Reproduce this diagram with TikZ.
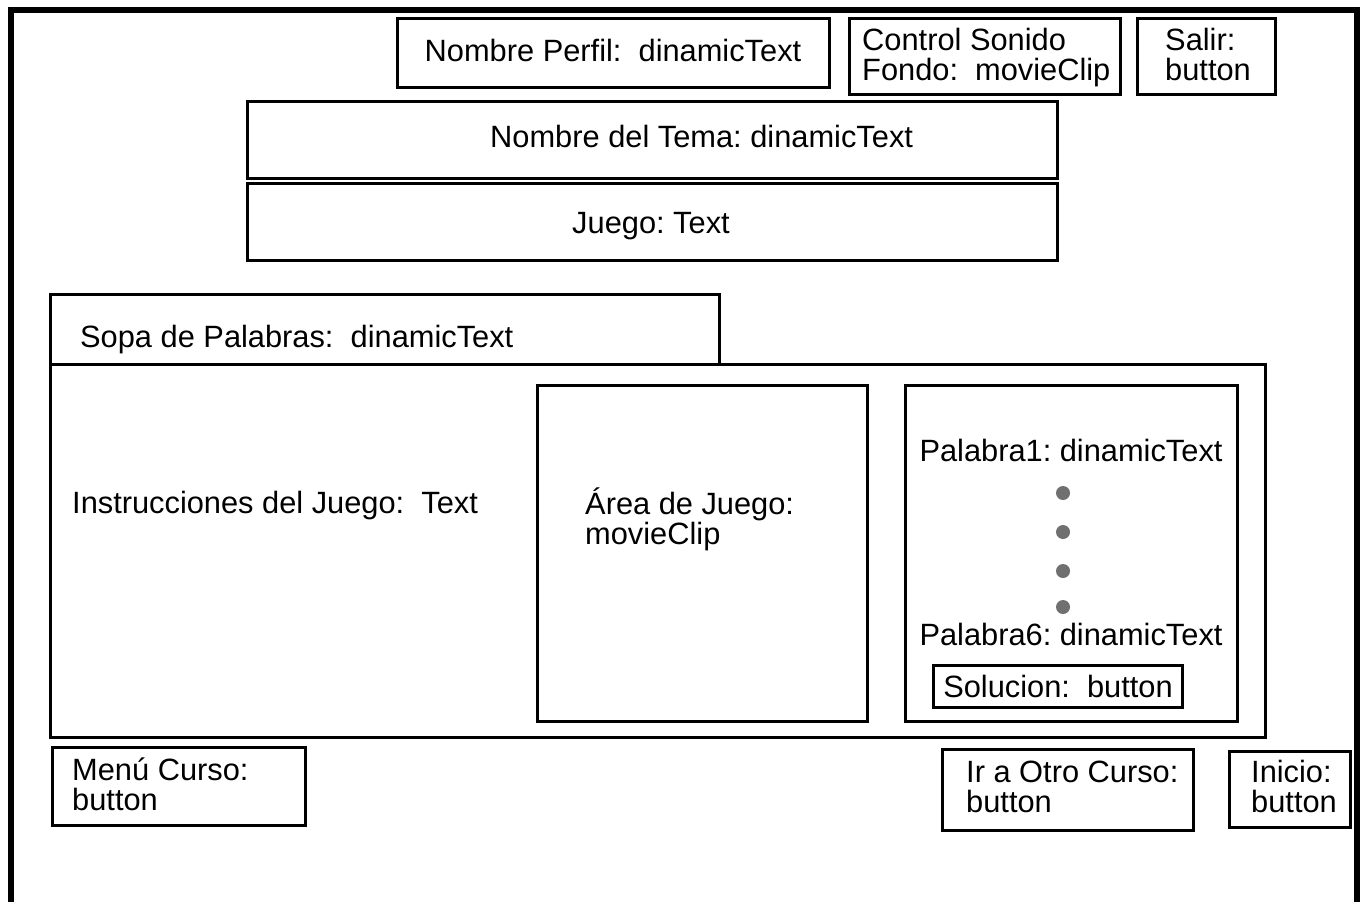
\documentclass[tikz,border=0pt]{standalone}
\usepackage{fontspec}
\setmainfont{Liberation Sans}
\usetikzlibrary{fit}
\definecolor{dotgray}{RGB}{112,112,112}
\begin{document}
\frenchspacing
\begin{tikzpicture}[x=1pt,y=-1pt,
  box/.style={draw=black, line width=3pt, inner sep=0pt},
  lbl/.style={inner sep=0pt, anchor=base west, font=\fontsize{30.8}{30}\selectfont},
  clbl/.style={inner sep=0pt, anchor=base, font=\fontsize{30.8}{30}\selectfont},
  frame/.style={draw=black, line width=6.5pt, line join=miter},
  bullet/.style={circle, fill=dotgray, inner sep=0pt, minimum size=14pt}]
\useasboundingbox[fill=white] (0,0) rectangle (1368,902);

% outer screen frame (open at the bottom edge)
\coordinate (fbl) at (11,910);
\coordinate (ftl) at (11,10);
\coordinate (ftr) at (1357,10);
\coordinate (fbr) at (1357,910);
\draw[frame] (fbl) -- (ftl) -- (ftr) -- (fbr);

% header
\node[box, fit={(397,18) (829,87)}] (perfil) {};
\node[clbl] (perfilT) at (613,61) {Nombre Perfil:\ \ dinamicText};
\node[box, fit={(849,18) (1120,94)}] (sonido) {};
\node[lbl] (sonidoT) at (862,50) {\vtop{\hbox{Control Sonido}\hbox{Fondo:\ \ movieClip}}};
\node[box, fit={(1137,18) (1275,94)}] (salir) {};
\node[lbl] (salirT) at (1165,50) {\vtop{\hbox{Salir:}\hbox{button}}};

\node[box, fit={(247,101) (1057,178)}] (tema) {};
\node[lbl] (temaT) at (490,147) {Nombre del Tema: dinamicText};
\node[box, fit={(247,183) (1057,260)}] (juego) {};
\node[clbl] (juegoT) at (651,233) {Juego: Text};

% game panel
\node[box, fit={(50,294) (719,364)}] (sopa) {};
\node[lbl] (sopaT) at (80,347) {Sopa de Palabras:\ \ dinamicText};
\node[box, fit={(50,364) (1265,737)}] (panel) {};
\node[lbl] (instrT) at (72,513) {Instrucciones del Juego:\ \ Text};

\node[box, fit={(537,385) (867,721)}] (area) {};
\node[lbl] (areaT) at (585,514) {\vtop{\hbox{Área de Juego:}\hbox{movieClip}}};

\node[box, fit={(905,385) (1237,721)}] (palabras) {};
\node[clbl] (pal1) at (1071,461) {Palabra1: dinamicText};
\node[bullet] (d1) at (1063,493) {};
\node[bullet] (d2) at (1063,532) {};
\node[bullet] (d3) at (1063,571) {};
\node[bullet] (d4) at (1063,607) {};
\node[clbl] (pal6) at (1071,645) {Palabra6: dinamicText};
\node[box, fit={(933,665) (1182,707)}] (solucion) {};
\node[clbl] (solucionT) at (1058,697) {Solucion:\ \ button};

% footer buttons
\node[box, fit={(52,747) (305,825)}] (menu) {};
\node[lbl] (menuT) at (72,780) {\vtop{\hbox{Menú Curso:}\hbox{button}}};
\node[box, fit={(942,749) (1193,830)}] (otro) {};
\node[lbl] (otroT) at (966,782) {\vtop{\hbox{Ir a Otro Curso:}\hbox{button}}};
\node[box, fit={(1229,751) (1350,827)}] (inicio) {};
\node[lbl] (inicioT) at (1251,782) {\vtop{\hbox{Inicio:}\hbox{button}}};
\end{tikzpicture}
\end{document}
